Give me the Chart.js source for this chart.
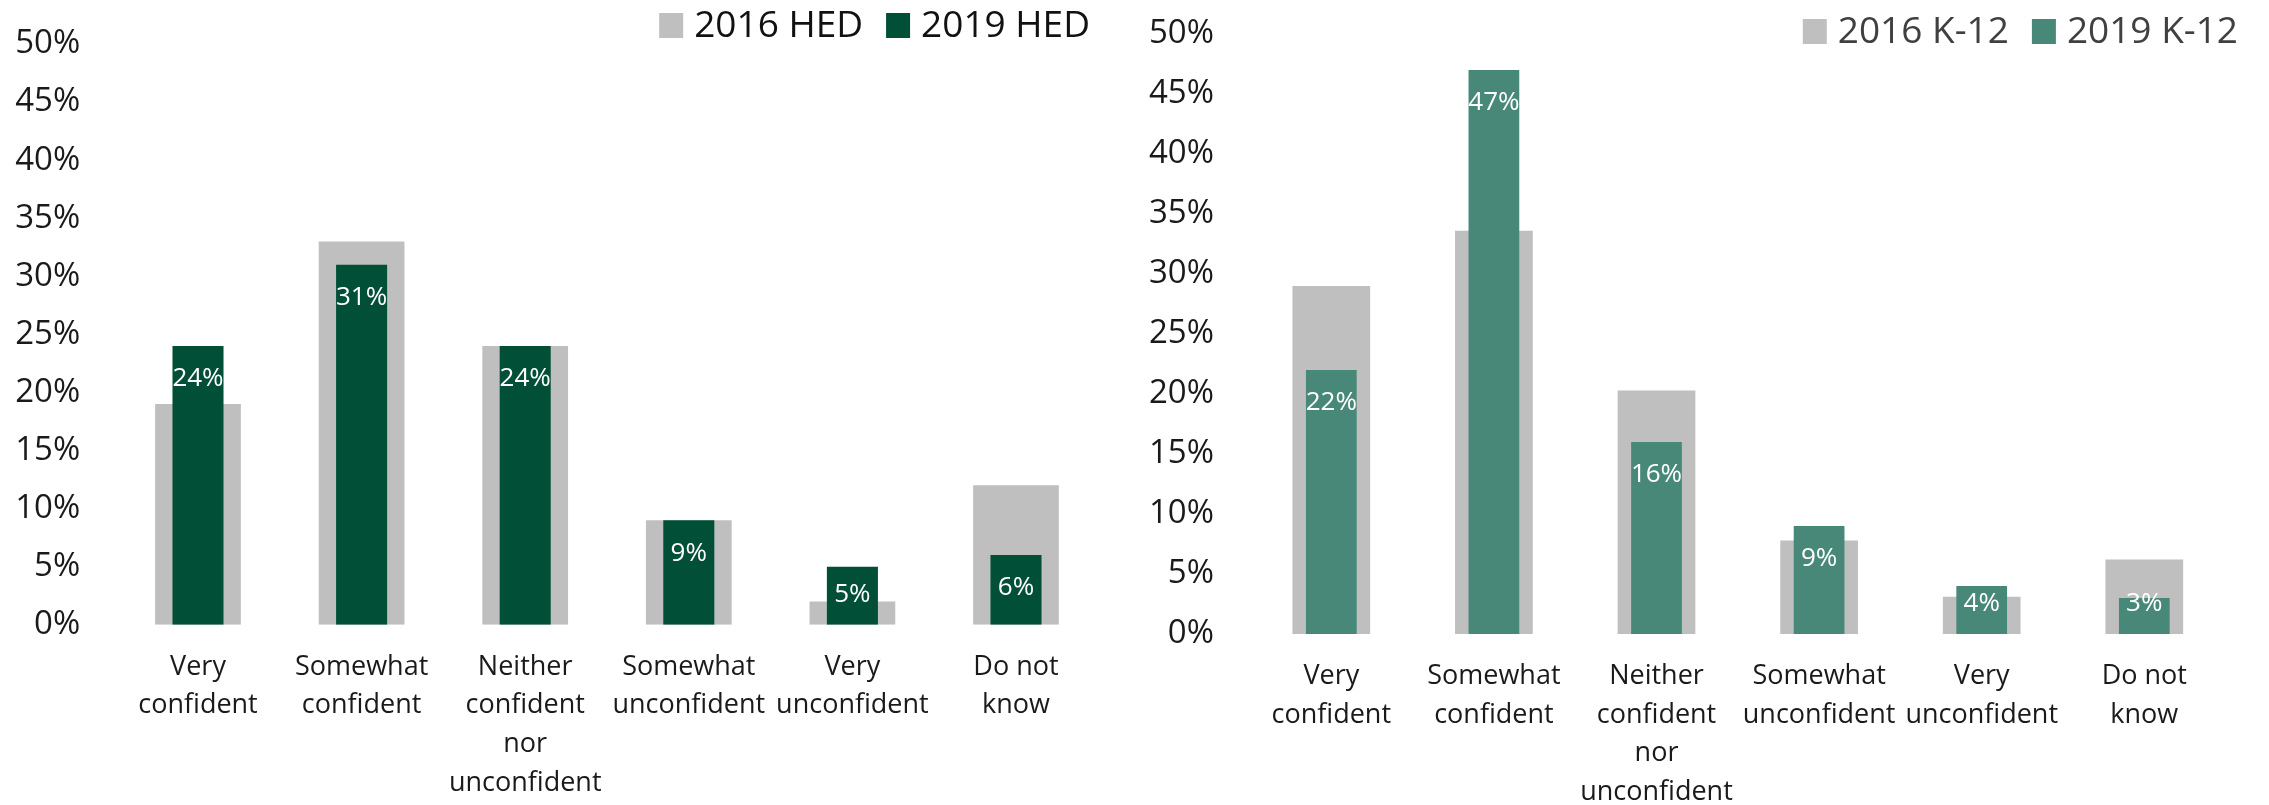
<!DOCTYPE html>
<html><head><meta charset="utf-8">
<script src="https://cdn.jsdelivr.net/npm/chart.js@4"></script>
<style>
html,body{margin:0;padding:0;background:#fff;}
#wrap{position:relative;width:2269px;height:805px;overflow:hidden;background:#fff;}
.box{position:absolute;top:0;height:805px;}
#b1{left:0;width:1140px;} #b2{left:1140px;width:1129px;}
</style></head><body>
<div id="wrap">
  <div class="box" id="b1"><canvas id="c1" width="1140" height="805"></canvas></div>
  <div class="box" id="b2"><canvas id="c2" width="1129" height="805"></canvas></div>
</div>
<script>
// ---- data ----
const categories = [
  ["Very", "confident"],
  ["Somewhat", "confident"],
  ["Neither", "confident", "nor", "unconfident"],
  ["Somewhat", "unconfident"],
  ["Very", "unconfident"],
  ["Do not", "know"]
];
const hedLabels = ["2016 HED", "2019 HED"];
const hed2016 = [19, 33, 24, 9, 2, 12];
const hed2019 = [24, 31, 24, 9, 5, 6];
const k12Labels = ["2016 K-12", "2019 K-12"];
const k12_2016 = [29, 33.6, 20.3, 7.8, 3.1, 6.2];
const k12_2019 = [22, 47, 16, 9, 4, 3];
const yMin = 0, yMax = 50, yStep = 5;

// ---- plugins ----
const barLabels = {
  id: 'barLabels',
  afterDatasetsDraw(chart, args, opts) {
    const ctx = chart.ctx;
    const idx = opts.datasetIndex;
    const meta = chart.getDatasetMeta(idx);
    const ds = chart.data.datasets[idx];
    ctx.save();
    ctx.font = opts.size + "px 'Open Sans'";
    ctx.fillStyle = opts.color;
    ctx.textAlign = 'center';
    ctx.textBaseline = 'middle';
    meta.data.forEach((bar, i) => {
      const y = Math.min(bar.y + opts.inset, bar.base - opts.minFromBase);
      ctx.fillText(ds.data[i] + '%', bar.x, y);
    });
    ctx.restore();
  }
};
const customLegend = {
  id: 'customLegend',
  afterDraw(chart, args, opts) {
    const ctx = chart.ctx;
    ctx.save();
    ctx.font = opts.size + "px 'Open Sans'";
    ctx.textBaseline = 'middle';
    ctx.textAlign = 'left';
    const items = chart.data.datasets.map(d => ({ text: d.label, color: d.backgroundColor }));
    let x = opts.right;
    const pos = [];
    for (let i = items.length - 1; i >= 0; i--) {
      const w = ctx.measureText(items[i].text).width;
      const tx = x - w;
      const bx = tx - opts.textGap - opts.boxW;
      pos[i] = { tx, bx };
      x = bx - opts.itemGap;
    }
    items.forEach((it, i) => {
      ctx.fillStyle = it.color;
      ctx.fillRect(pos[i].bx, opts.y - opts.boxH / 2, opts.boxW, opts.boxH);
      ctx.fillStyle = opts.color;
      ctx.fillText(it.text, pos[i].tx, opts.y + 1);
    });
    ctx.restore();
  }
};

function makeChart(id, cfg) {
  return new Chart(document.getElementById(id), {
    type: 'bar',
    data: {
      labels: categories,
      datasets: [
        { label: cfg.labels[0], data: cfg.d1, backgroundColor: '#BFBFBF', grouped: false, order: 2,
          categoryPercentage: 1, barPercentage: cfg.grayPct },
        { label: cfg.labels[1], data: cfg.d2, backgroundColor: cfg.c2, grouped: false, order: 1,
          categoryPercentage: 1, barPercentage: 0.312 }
      ]
    },
    options: {
      responsive: false,
      animation: false,
      layout: { padding: { top: cfg.top, right: cfg.right, left: 0, bottom: 0 } },
      plugins: {
        legend: { display: false },
        tooltip: { enabled: false },
        barLabels: { datasetIndex: 1, size: 26, color: '#ffffff', inset: 33, minFromBase: 30 },
        customLegend: { right: cfg.legRight, y: cfg.legY, size: 37, boxW: 24, boxH: 25,
          textGap: 11, itemGap: 23, color: cfg.legColor }
      },
      scales: {
        x: {
          grid: { display: false, drawTicks: true, tickLength: 23 },
          border: { display: false },
          ticks: { color: '#1a1a1a', font: { size: 27, lineHeight: 1.43 }, padding: 0,
            maxRotation: 0, minRotation: 0, autoSkip: false },
          afterFit(s) { s.height = cfg.xh; }
        },
        y: {
          min: yMin, max: yMax,
          grid: { display: false, drawTicks: true, tickLength: 36 },
          border: { display: false },
          ticks: { stepSize: yStep, color: '#1a1a1a', font: { size: 33 }, padding: 0,
            callback: v => v + '%' },
          afterFit(s) { s.width = cfg.yw; }
        }
      }
    },
    plugins: [barLabels, customLegend]
  });
}

function build() {
  Chart.defaults.font.family = "'Open Sans', sans-serif";
  makeChart('c1', { labels: hedLabels, d1: hed2016, d2: hed2019, c2: '#024F37', grayPct: 0.524,
    top: 44, right: 42.2, xh: 180.3, yw: 116.2, legRight: 1090, legY: 25.5, legColor: '#111111' });
  makeChart('c2', { labels: k12Labels, d1: k12_2016, d2: k12_2019, c2: '#488878', grayPct: 0.478,
    top: 34, right: 43.4, xh: 171, yw: 110, legRight: 1098, legY: 31.5, legColor: '#404040' });
}
if (document.fonts && document.fonts.load) {
  Promise.all([document.fonts.load("27px 'Open Sans'"), document.fonts.load("37px 'Open Sans'")])
    .then(build, build);
} else { build(); }
</script>
</body></html>
